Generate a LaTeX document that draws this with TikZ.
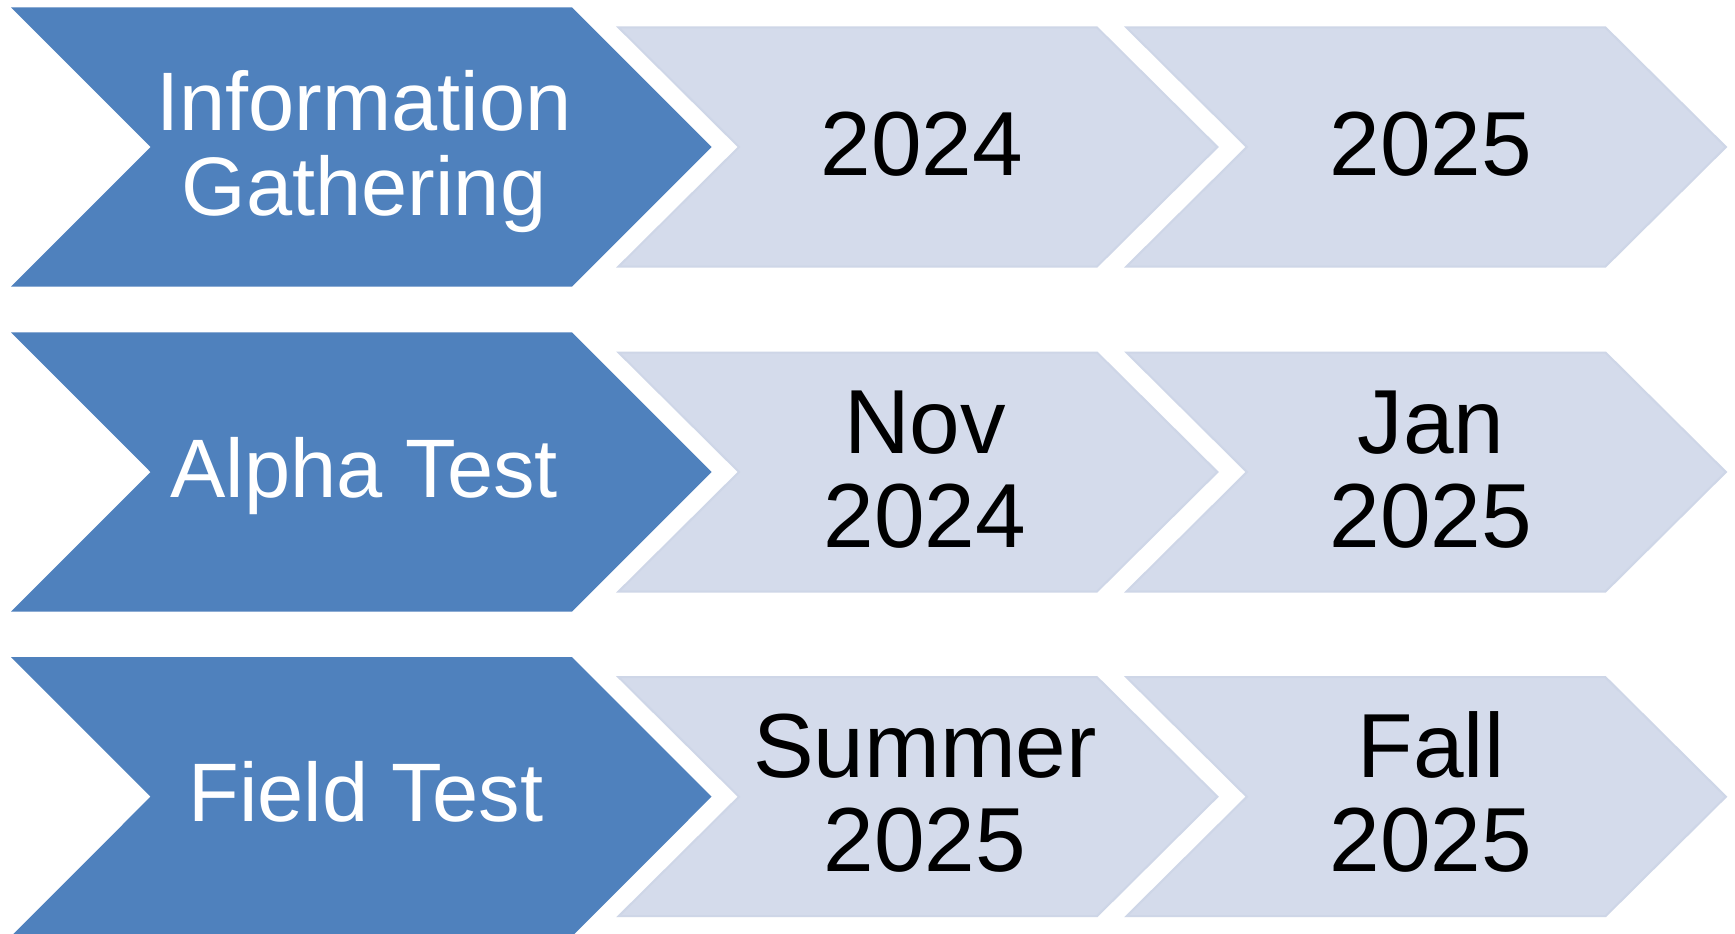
\documentclass[tikz,border=0pt]{standalone}
\usepackage{fontspec}
\setmainfont{Liberation Sans}
\definecolor{cblue}{RGB}{79,129,189}
\definecolor{clight}{RGB}{212,219,235}
\definecolor{cedge}{RGB}{206,214,231}
\newcommand\twoline[1]{\begin{tabular}[t]{@{}c@{}}#1\end{tabular}}
% #1 left x, #2 point depth, #3 width to top-right corner, #4 mid y, #5 half height, #6 style
\newcommand\chevron[6]{%
  \path[#6] (#1,#4-#5) -- ++(#3,0) -- ++(#2,#5) -- ++(-#2,#5) -- ++(-#3,0) -- ++(#2,-#5) -- cycle;}
\begin{document}
\begin{tikzpicture}[x=1pt,y=-1pt,
  bluechev/.style={fill=cblue},
  lightchev/.style={fill=clight,draw=cedge,line width=2pt,line join=miter},
  wtext/.style={text=white,inner sep=0pt,anchor=base,font=\fontsize{83}{85}\selectfont},
  btext/.style={text=black,inner sep=0pt,anchor=base,font=\fontsize{91}{94}\selectfont}]
\useasboundingbox (0,0) rectangle (1735,934);
\clip (0,0) rectangle (1735,934);
\fill[white] (0,0) rectangle (1735,934);
\foreach \m in {147,472,796.7}{
  \chevron{11}{139.5}{561}{\m}{139.7}{bluechev}
  \chevron{618.6}{120.4}{478.4}{\m}{119.5}{lightchev}
  \chevron{1126.5}{120.4}{479}{\m}{119.5}{lightchev}
}
% row 1
\node[wtext] (t1) at (364,130) {\twoline{Information\\Gathering}};
\node[btext] (a1) at (922,175) {2024};
\node[btext] (b1) at (1431,175) {2025};
% row 2
\node[wtext] (t2) at (364,497.3) {Alpha Test};
\node[btext] (a2) at (925,453.3) {\twoline{Nov\\2024}};
\node[btext] (b2) at (1431,453.3) {\twoline{Jan\\2025}};
% row 3
\node[wtext] (t3) at (366,821.7) {Field Test};
\node[btext] (a3) at (925,777.3) {\twoline{Summer\\2025}};
\node[btext] (b3) at (1431,777.3) {\twoline{Fall\\2025}};
\end{tikzpicture}
\end{document}
